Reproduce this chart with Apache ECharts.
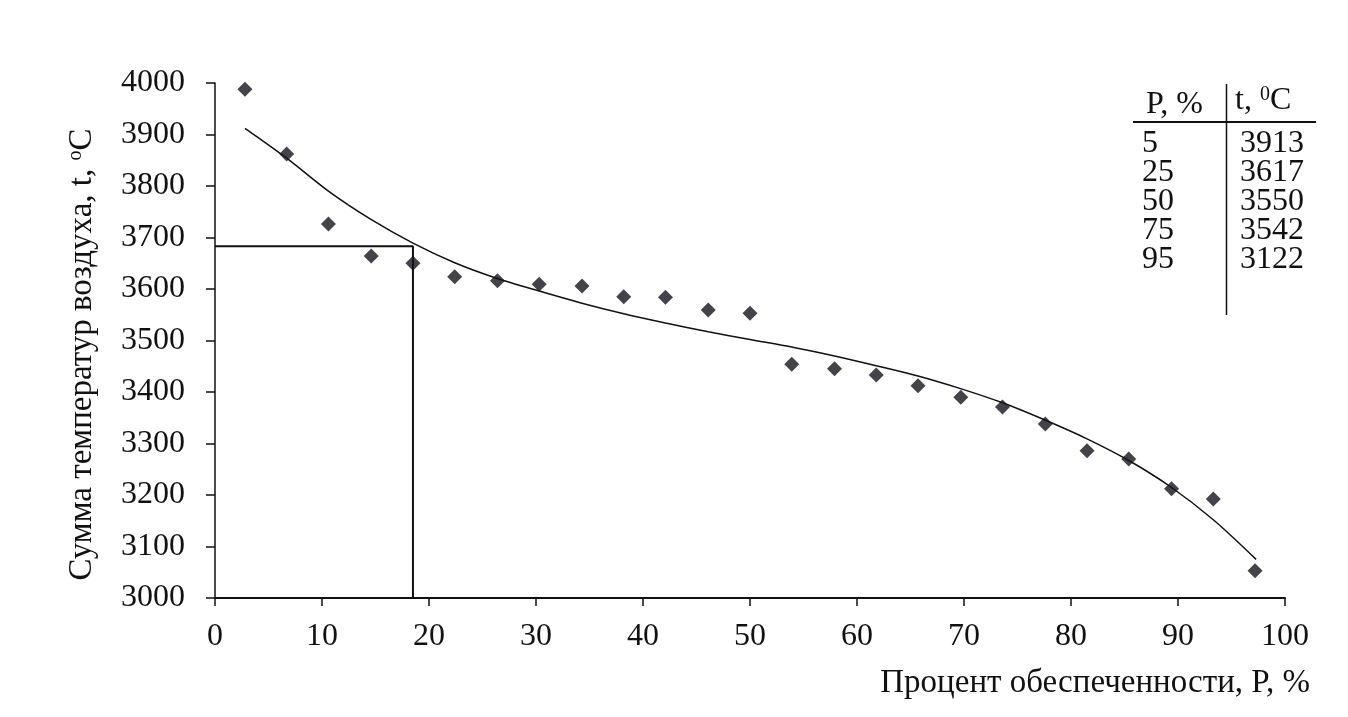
<!DOCTYPE html>
<html>
<head>
<meta charset="utf-8">
<script src="https://cdn.jsdelivr.net/npm/echarts@6/dist/echarts.min.js"></script>
<style>
  html, body { margin: 0; padding: 0; background: #fff; }
  #chart { width: 1348px; height: 717px; }
</style>
</head>
<body>
<div id="chart"></div>
<script>
// observed points: probability of exceedance (%) and temperature sum
const pointP = [2.8, 6.7, 10.6, 14.6, 18.5, 22.4, 26.4, 30.3, 34.3, 38.2, 42.1, 46.1, 50.0,
  53.9, 57.9, 61.8, 65.7, 69.7, 73.6, 77.6, 81.5, 85.4, 89.4, 93.3, 97.2]
const pointT = [3988, 3862, 3726, 3664, 3650, 3624, 3616, 3609, 3606, 3585, 3584, 3559, 3553,
  3454, 3445, 3433, 3412, 3390, 3371, 3338, 3286, 3270, 3212, 3192, 3053]

// trend curve
const trendP = [2.8, 6.7, 10.6, 14.5, 18.5, 22.4, 26.3, 30.3, 34.2, 38.2, 42.1, 46.1, 50.0,
  54.0, 57.9, 61.8, 65.7, 69.6, 73.6, 77.4, 81.4, 85.4, 89.3, 93.3, 97.3]
const trendT = [3912, 3854, 3790, 3736, 3689, 3651, 3621, 3596, 3573, 3552, 3534, 3517, 3502,
  3487, 3470, 3451, 3431, 3407, 3379, 3347, 3310, 3267, 3216, 3152, 3075]

// helper lines (18.5 %)
const guideP = [0, 18.5, 18.5]
const guideT = [3683, 3683, 3000]

// table in the corner
const tableP = [5, 25, 50, 75, 95]
const tableT = [3913, 3617, 3550, 3542, 3122]

const font = '"Liberation Serif", "Times New Roman", serif'
const ink = '#111'

const zip = (a, b) => a.map((v, i) => [v, b[i]])

const tableGraphics = []
tableGraphics.push({
  type: 'text', left: 1146, top: 89,
  style: { text: 'P, %', font: '32px ' + font, fill: ink }
})
tableGraphics.push({
  type: 'text', left: 1235, top: 85,
  style: {
    text: '{n|t, }{s|0}{n|C}',
    rich: {
      n: { fontFamily: font, fontSize: 32, fill: ink, verticalAlign: 'bottom' },
      s: { fontFamily: font, fontSize: 20, fill: ink, verticalAlign: 'top', padding: [0, 0, 12, 0] }
    },
    fill: ink
  }
})
tableP.forEach((p, i) => {
  const top = 128 + i * 29
  tableGraphics.push({
    type: 'text', left: 1142, top: top,
    style: { text: String(p), font: '32px ' + font, fill: ink }
  })
  tableGraphics.push({
    type: 'text', left: 1240, top: top,
    style: { text: String(tableT[i]), font: '32px ' + font, fill: ink }
  })
})
tableGraphics.push({
  type: 'line', shape: { x1: 1133, y1: 122, x2: 1316, y2: 122 },
  style: { stroke: ink, lineWidth: 2 }
})
tableGraphics.push({
  type: 'line', shape: { x1: 1226.5, y1: 84, x2: 1226.5, y2: 315 },
  style: { stroke: ink, lineWidth: 1.5 }
})

const chart = echarts.init(document.getElementById('chart'))
chart.setOption({
  backgroundColor: '#ffffff',
  animation: false,
  grid: {
    left: 215,
    right: 63,
    top: 83,
    bottom: 119
  },
  xAxis: {
    type: 'value',
    min: 0,
    max: 100,
    interval: 10,
    name: 'Процент обеспеченности, P, %',
    nameLocation: 'end',
    nameGap: 25,
    nameTextStyle: {
      fontFamily: font,
      fontSize: 33,
      color: ink,
      align: 'right',
      verticalAlign: 'top',
      padding: [69, 0, 0, 0]
    },
    axisLine: { lineStyle: { color: ink, width: 2 } },
    axisTick: { length: 8, lineStyle: { color: ink, width: 1.5 } },
    axisLabel: { margin: 23, fontFamily: font, fontSize: 32, color: ink },
    splitLine: { show: false }
  },
  yAxis: {
    type: 'value',
    min: 3000,
    max: 4000,
    interval: 100,
    name: 'Сумма температур воздуха, t, {s|o}C',
    nameLocation: 'middle',
    nameGap: 116,
    nameTextStyle: {
      fontFamily: font,
      fontSize: 33,
      color: ink,
      padding: [0, 28, 0, 0],
      rich: {
        s: { fontFamily: font, fontSize: 20, color: ink, padding: [0, 0, 13, 0] }
      }
    },
    axisLine: { show: true, lineStyle: { color: ink, width: 1.5 } },
    axisTick: { show: true, length: 9, lineStyle: { color: ink, width: 1.5 } },
    axisLabel: {
      margin: 30,
      fontFamily: font,
      fontSize: 32,
      color: ink,
      formatter: v => String(v)
    },
    splitLine: { show: false }
  },
  series: [
    {
      name: 'guide',
      type: 'line',
      data: zip(guideP, guideT),
      showSymbol: false,
      lineStyle: { color: ink, width: 2 },
      z: 1
    },
    {
      name: 'trend',
      type: 'line',
      data: zip(trendP, trendT),
      smooth: 0.3,
      showSymbol: false,
      lineStyle: { color: ink, width: 1.5 },
      z: 2
    },
    {
      name: 'observed',
      type: 'scatter',
      data: zip(pointP, pointT),
      symbol: 'diamond',
      symbolSize: [15, 15],
      itemStyle: { color: '#14141c' },
      z: 3
    }
  ],
  graphic: tableGraphics
})
</script>
</body>
</html>
